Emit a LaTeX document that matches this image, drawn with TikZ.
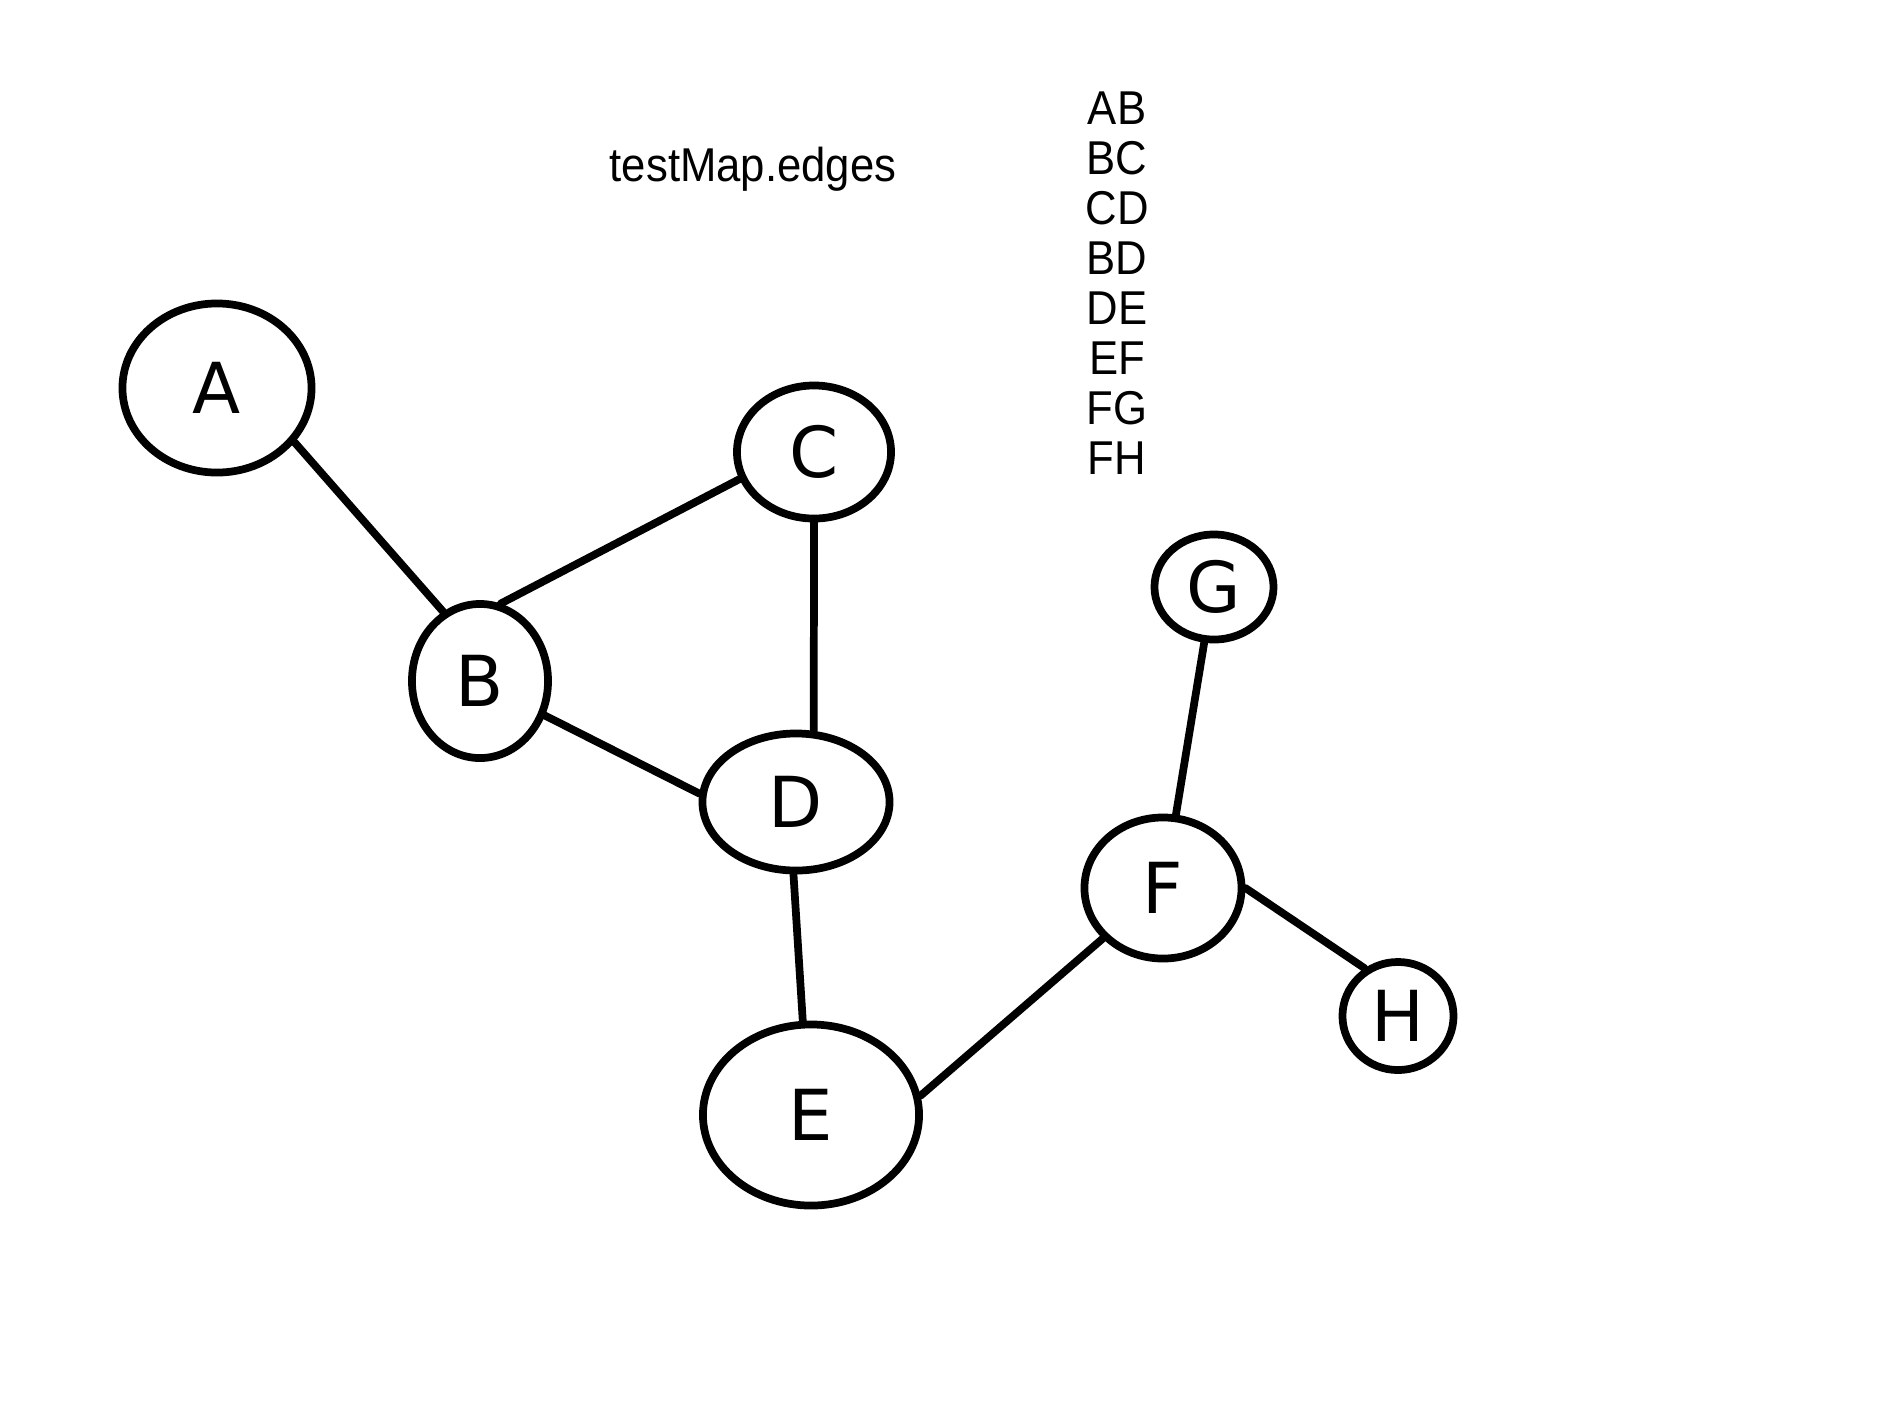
\documentclass[tikz,border=0pt]{standalone}
\usepackage{fontspec}
\setmainfont{Liberation Sans}
\newfontfamily\handfont{DejaVu Sans}
\usetikzlibrary{shapes.geometric}
\begin{document}
\begin{tikzpicture}[x=0.01cm,y=-0.01cm,
  vertex/.style={ellipse, draw, line width=2.2pt, inner sep=0pt,
    font=\handfont\fontsize{20}{20}\selectfont},
  link/.style={line width=2.2pt, line cap=round},
  listtext/.style={font=\fontsize{13.5}{14}\selectfont, inner sep=0pt, xscale=0.92}]
  \useasboundingbox (0,0) rectangle (1890,1417);

  % vertices of the graph
  \node[vertex, minimum width=1.89cm, minimum height=1.69cm] (A) at (217,388) {A};
  \node[vertex, minimum width=1.36cm, minimum height=1.54cm] (B) at (480,681) {B};
  \node[vertex, minimum width=1.54cm, minimum height=1.33cm] (C) at (814,452) {C};
  \node[vertex, minimum width=1.87cm, minimum height=1.37cm] (D) at (796,802) {D};
  \node[vertex, minimum width=2.16cm, minimum height=1.81cm] (E) at (811,1115) {E};
  \node[vertex, minimum width=1.57cm, minimum height=1.41cm] (F) at (1163,888) {F};
  \node[vertex, minimum width=1.19cm, minimum height=1.05cm] (G) at (1214,587) {G};
  \node[vertex, minimum width=1.11cm, minimum height=1.08cm] (H) at (1398,1016) {H};

  % edges
  \draw[link] (A.-35) -- (B.118);
  \draw[link] (B.75) -- (C.200);
  \draw[link] (C.south) -- (D.76);
  \draw[link] (B.-28) -- (D.175);
  \draw[link] (D.-92) -- (E.95);
  \draw[link] (E.10) -- (F.-140);
  \draw[link] (F.80) -- (G.-100);
  \draw[link] (F.0) -- (H.125);

  % caption and edge list
  \node[listtext] (title) at (753,169) {testMap.edges};
  \node[listtext] (eAB) at (1117,108) {AB};
  \node[listtext] (eBC) at (1117,158) {BC};
  \node[listtext] (eCD) at (1117,208) {CD};
  \node[listtext] (eBD) at (1117,258) {BD};
  \node[listtext] (eDE) at (1117,308) {DE};
  \node[listtext] (eEF) at (1117,358) {EF};
  \node[listtext] (eFG) at (1117,408) {FG};
  \node[listtext] (eFH) at (1117,458) {FH};
\end{tikzpicture}
\end{document}
